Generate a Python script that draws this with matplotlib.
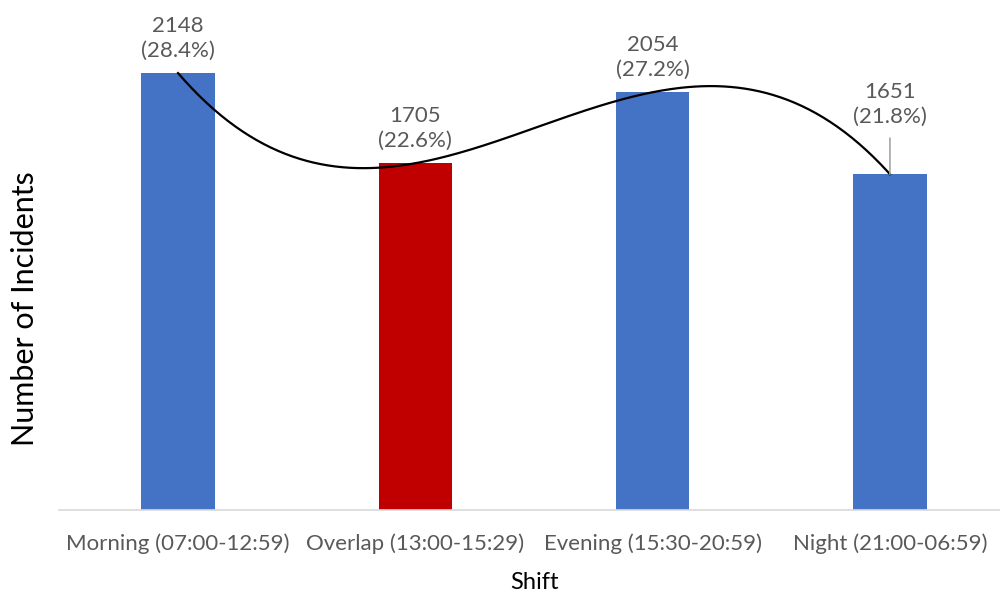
import numpy as np
import matplotlib
matplotlib.use("Agg")
import matplotlib.pyplot as plt

# Incidents by shift
shifts = ["Morning (07:00-12:59)", "Overlap (13:00-15:29)",
          "Evening (15:30-20:59)", "Night (21:00-06:59)"]
incidents = [2148, 1705, 2054, 1651]
shares = ["28.4%", "22.6%", "27.2%", "21.8%"]
bar_colors = ["#4472C4", "#C00000", "#4472C4", "#4472C4"]

plt.rcParams["font.family"] = ["Lato", "DejaVu Sans"]

fig = plt.figure(figsize=(10, 5.97), dpi=100)
ax = fig.add_axes([0.0594, 0.1457, 0.9492, 0.8518])

x = np.arange(len(shifts))
ax.bar(x, incidents, width=0.31, color=bar_colors, zorder=2)

# Third-order polynomial trend through the shift counts
coef = np.polyfit(x, incidents, 3)
xs = np.linspace(x[0], x[-1], 300)
ax.plot(xs, np.polyval(coef, xs), color="black", lw=1.6, zorder=3)

# Value labels
offsets = [9, 9, 9, 34]
for xi, v, s, off in zip(x, incidents, shares, offsets):
    kw = dict(textcoords="offset points", ha="center", va="bottom",
              fontsize=16, color="#595959", linespacing=1.3)
    if off > 12:
        kw["arrowprops"] = dict(arrowstyle="-", color="#A6A6A6", lw=1.2,
                                shrinkA=6, shrinkB=0)
    ax.annotate(f"{v}\n({s})", xy=(xi, v), xytext=(0, off), **kw)

ax.set_xlim(-0.5, 3.5)
ax.set_ylim(0, 2500)
ax.set_xticks(x)
ax.set_xticklabels(shifts, fontsize=16, color="#595959")
ax.tick_params(axis="x", length=0, pad=17)
ax.set_yticks([])
for side in ["left", "right", "top"]:
    ax.spines[side].set_visible(False)
ax.spines["bottom"].set_color("#D9D9D9")
ax.spines["bottom"].set_linewidth(1.2)

ax.set_xlabel("Shift", fontsize=17, color="black", labelpad=13)
ax.set_ylabel("Number of Incidents", fontsize=22, color="black",
              va="center", ha="center")
ax.yaxis.set_label_coords(-0.0362, 0.397)

fig.savefig("out.png", dpi=100)
